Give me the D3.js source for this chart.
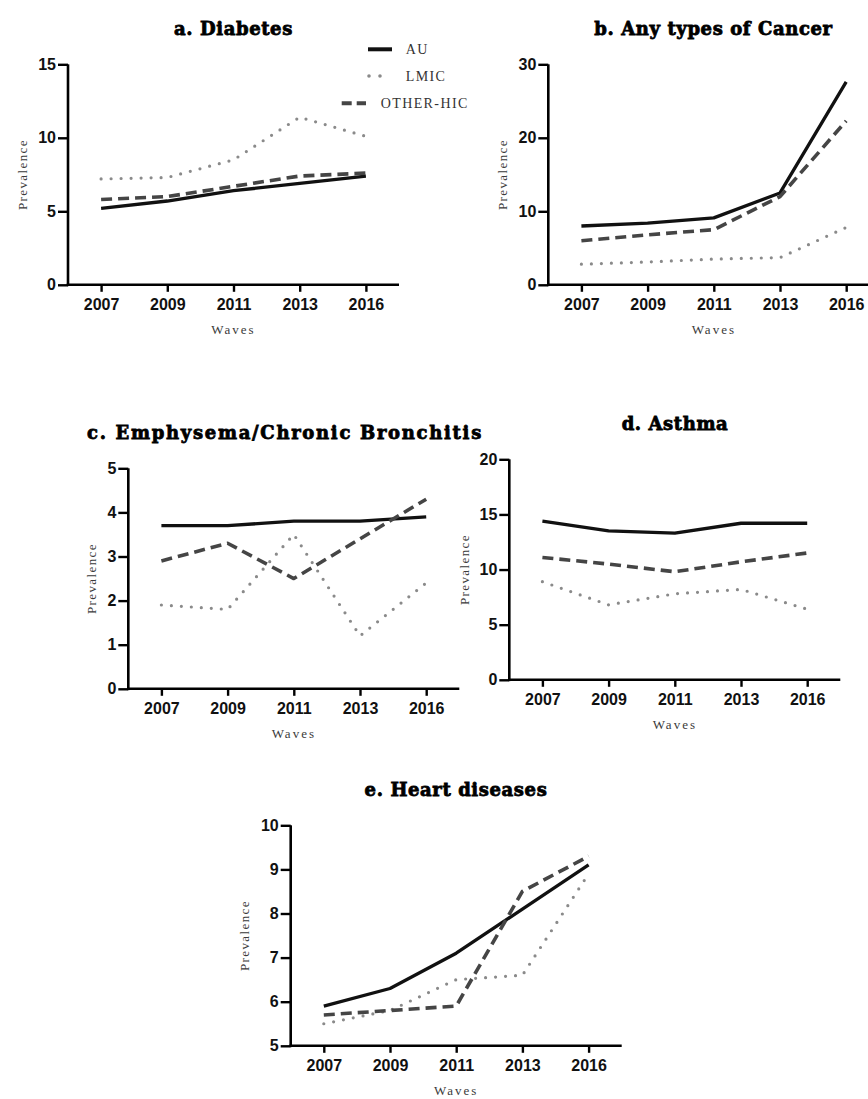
<!DOCTYPE html>
<html>
<head>
<meta charset="utf-8">
<script src="https://cdn.jsdelivr.net/npm/d3@7"></script>
<style>
  body { margin: 0; background: #fff; }
  svg { display: block; }
</style>
</head>
<body>
<svg id="chart" width="868" height="1099"></svg>
<script>
// Data
const waves = ["2007", "2009", "2011", "2013", "2016"];
const seriesNames = ["AU", "LMIC", "OTHER-HIC"];

const diabetesAU = [5.2, 5.7, 6.4, 6.9, 7.4];
const diabetesLMIC = [7.2, 7.3, 8.5, 11.4, 10.1];
const diabetesOther = [5.8, 6.0, 6.7, 7.4, 7.6];

const cancerAU = [8.0, 8.4, 9.1, 12.5, 27.6];
const cancerLMIC = [2.8, 3.1, 3.5, 3.7, 7.8];
const cancerOther = [6.0, 6.8, 7.5, 12.0, 22.3];

const emphysemaAU = [3.7, 3.7, 3.8, 3.8, 3.9];
const emphysemaLMIC = [1.9, 1.8, 3.5, 1.2, 2.4];
const emphysemaOther = [2.9, 3.3, 2.5, 3.4, 4.3];

const asthmaAU = [14.4, 13.5, 13.3, 14.2, 14.2];
const asthmaLMIC = [8.9, 6.8, 7.8, 8.2, 6.4];
const asthmaOther = [11.1, 10.5, 9.8, 10.7, 11.5];

const heartAU = [5.9, 6.3, 7.1, 8.1, 9.1];
const heartLMIC = [5.5, 5.8, 6.5, 6.6, 8.9];
const heartOther = [5.7, 5.8, 5.9, 8.5, 9.3];

// Line styles per series
const lineStyle = {
    "AU": { color: "#111", width: 3.3, dash: null, cap: "butt" },
    "LMIC": { color: "#8a8a8a", width: 3.2, dash: "0 10", cap: "round" },
    "OTHER-HIC": { color: "#454545", width: 3.6, dash: "11 6", cap: "butt" }
};

const panels = [
    { title: "a. Diabetes", series: [diabetesAU, diabetesLMIC, diabetesOther],
      domain: [0, 15], ticks: [0, 5, 10, 15], left: 68, top: 64.3, titleX: 233.5, ylabOff: 46, spacing: 0.6 },
    { title: "b. Any types of Cancer", series: [cancerAU, cancerLMIC, cancerOther],
      domain: [0, 30], ticks: [0, 10, 20, 30], left: 548.3, top: 64.3, titleX: 713.5, ylabOff: 46, spacing: 0.6 },
    { title: "c. Emphysema/Chronic Bronchitis", series: [emphysemaAU, emphysemaLMIC, emphysemaOther],
      domain: [0, 5], ticks: [0, 1, 2, 3, 4, 5], left: 128.3, top: 468.3, titleX: 285, ylabOff: 37, spacing: 1.7 },
    { title: "d. Asthma", series: [asthmaAU, asthmaLMIC, asthmaOther],
      domain: [0, 20], ticks: [0, 5, 10, 15, 20], left: 509.3, top: 459.3, titleX: 675, ylabOff: 45, spacing: 0.6 },
    { title: "e. Heart diseases", series: [heartAU, heartLMIC, heartOther],
      domain: [5, 10], ticks: [5, 6, 7, 8, 9, 10], left: 290.7, top: 825.3, titleX: 456, ylabOff: 46, spacing: 0.6 }
];

const plotW = 331, plotH = 220.5;
const svg = d3.select("#chart");
svg.append("rect").attr("width", 868).attr("height", 1099).attr("fill", "#fff");

panels.forEach(drawPanel);
drawLegend();

function drawPanel(p) {
    const g = svg.append("g").attr("transform", `translate(${p.left},${p.top})`);

    const x = d3.scalePoint().domain(waves).range([0, plotW]).padding(0.5);
    const y = d3.scaleLinear().domain(p.domain).range([plotH, 0]);

    // Lines
    const line = d3.line()
        .x((d, i) => x(waves[i]))
        .y(d => y(d));

    p.series.forEach((vals, i) => {
        const st = lineStyle[seriesNames[i]];
        g.append("path")
            .datum(vals)
            .attr("d", line)
            .attr("fill", "none")
            .attr("stroke", st.color)
            .attr("stroke-width", st.width)
            .attr("stroke-linecap", st.cap)
            .attr("stroke-linejoin", "round")
            .attr("stroke-dasharray", st.dash);
    });

    // Axes
    const xAxis = g.append("g")
        .attr("transform", `translate(0,${plotH})`)
        .call(d3.axisBottom(x).tickSize(7).tickPadding(7).tickSizeOuter(0));
    const yAxis = g.append("g")
        .call(d3.axisLeft(y).tickValues(p.ticks).tickFormat(d3.format("d"))
            .tickSize(10).tickPadding(2).tickSizeOuter(0));

    [xAxis, yAxis].forEach(ax => {
        ax.select(".domain").attr("stroke", "#000").attr("stroke-width", 2.6);
        ax.selectAll(".tick line").attr("stroke", "#000").attr("stroke-width", 2.4);
        ax.selectAll("text")
            .attr("fill", "#111")
            .style("font-family", "'Liberation Sans', Arial, sans-serif")
            .style("font-weight", "bold")
            .style("font-size", "16px");
    });
    // join the two axes at the corner
    xAxis.select(".domain").attr("d", `M-1.3,0H${plotW}`);
    yAxis.select(".domain").attr("d", `M0,0V${plotH + 1.3}`);

    // Title
    svg.append("text")
        .attr("x", p.titleX)
        .attr("y", p.top - 29)
        .attr("text-anchor", "middle")
        .style("font-family", "'DejaVu Serif', serif")
        .style("font-weight", "bold")
        .style("font-size", "18px")
        .style("letter-spacing", p.spacing + "px")
        .attr("stroke", "#000")
        .attr("stroke-width", 0.8)
        .attr("fill", "#000")
        .text(p.title);

    // Axis labels
    g.append("text")
        .attr("x", plotW / 2)
        .attr("y", plotH + 49)
        .attr("text-anchor", "middle")
        .style("font-family", "'Liberation Serif', 'Times New Roman', serif")
        .style("font-size", "13px")
        .style("letter-spacing", "2px")
        .attr("fill", "#3a3a3a")
        .text("Waves");

    g.append("text")
        .attr("transform", `translate(${-p.ylabOff},${plotH / 2}) rotate(-90)`)
        .attr("dy", "0.35em")
        .attr("text-anchor", "middle")
        .style("font-family", "'Liberation Serif', 'Times New Roman', serif")
        .style("font-size", "13px")
        .style("letter-spacing", "1.4px")
        .attr("fill", "#3a3a3a")
        .text("Prevalence");
}

function drawLegend() {
    const rows = [
        { name: "AU", x1: 368, x2: 392, tx: 405.7, y: 49.3 },
        { name: "LMIC", x1: 369, x2: 391, tx: 405.7, y: 76 },
        { name: "OTHER-HIC", x1: 341.7, x2: 366, tx: 380.7, y: 103.3 }
    ];
    const legend = svg.selectAll(".legend")
        .data(rows)
        .enter().append("g")
        .attr("class", "legend");

    legend.append("line")
        .attr("x1", d => d.x1).attr("x2", d => d.x2)
        .attr("y1", d => d.y).attr("y2", d => d.y)
        .attr("stroke", d => lineStyle[d.name].color)
        .attr("stroke-width", d => d.name === "AU" ? 4 : lineStyle[d.name].width + 0.4)
        .attr("stroke-linecap", d => lineStyle[d.name].cap)
        .attr("stroke-dasharray", d => d.name === "LMIC" ? "0 11" : d.name === "OTHER-HIC" ? "10 5" : null);

    legend.append("text")
        .attr("x", d => d.tx)
        .attr("y", d => d.y)
        .attr("dy", "0.35em")
        .style("font-family", "'Liberation Serif', 'Times New Roman', serif")
        .style("font-size", "14px")
        .style("letter-spacing", "1.4px")
        .attr("fill", "#333")
        .text(d => d.name);
}
</script>
</body>
</html>
